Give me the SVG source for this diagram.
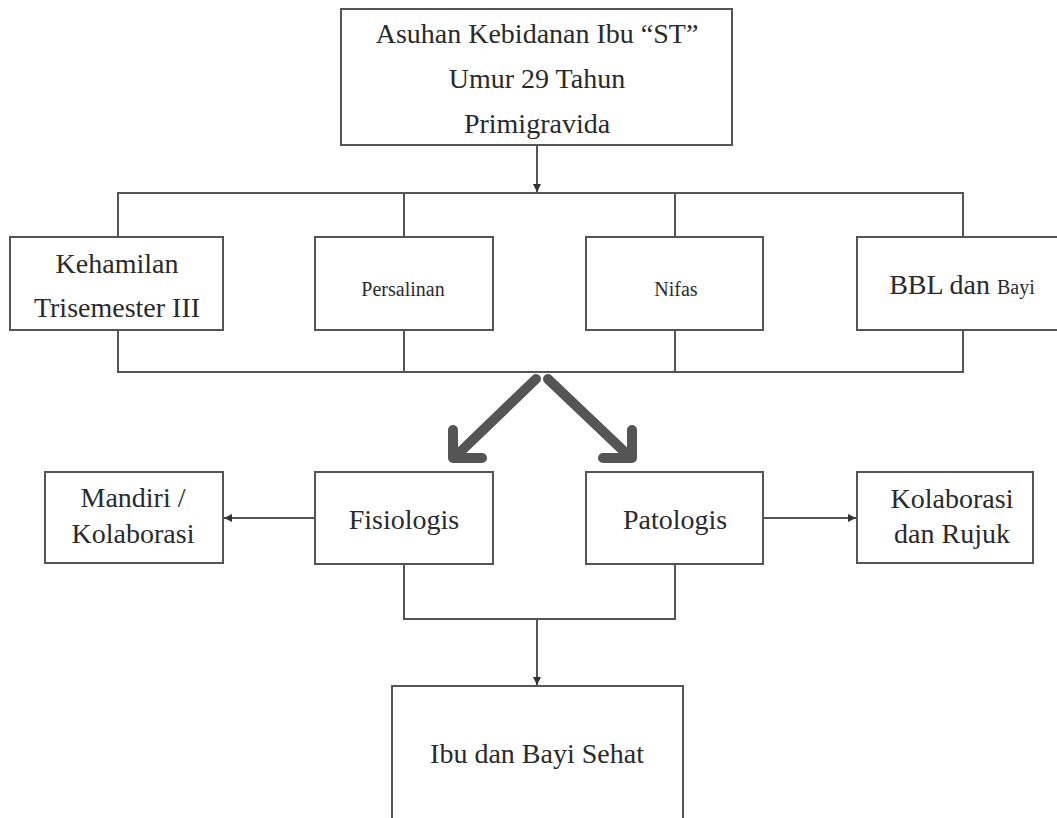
<svg xmlns="http://www.w3.org/2000/svg" width="1057" height="818" viewBox="0 0 1057 818" font-family="'Liberation Serif', 'Times New Roman', serif">
<defs>
<style>
.box{fill:#fff;stroke:#555;stroke-width:2}
.ln{fill:none;stroke:#555;stroke-width:2}
.big{fill:none;stroke:#555;stroke-width:10;stroke-linecap:round;stroke-linejoin:round}
text{font-family:'Liberation Serif','Times New Roman',serif;fill:#2a2a2a;text-anchor:middle}
.t{font-size:28px}
.s{font-size:20px}
</style>
<marker id="ah" markerWidth="10" markerHeight="10" refX="9" refY="5" orient="auto" markerUnits="userSpaceOnUse">
<path d="M1,1 L9,5 L1,9 Z" fill="#333"/>
</marker>
</defs>
<rect width="1057" height="818" fill="#fff"/>
<g id="connectors">
<line class="ln" x1="537" y1="145" x2="537" y2="192" marker-end="url(#ah)"/>
<polyline class="ln" points="118,237 118,193 963,193 963,237"/>
<line class="ln" x1="404" y1="193" x2="404" y2="237"/>
<line class="ln" x1="675" y1="193" x2="675" y2="237"/>
<polyline class="ln" points="118,330 118,372 963,372 963,330"/>
<line class="ln" x1="404" y1="330" x2="404" y2="372"/>
<line class="ln" x1="675" y1="330" x2="675" y2="372"/>
<line class="big" x1="536" y1="379" x2="457" y2="455"/>
<polyline class="big" points="453,430 453,458 482,458"/>
<line class="big" x1="548" y1="379" x2="628" y2="455"/>
<polyline class="big" points="632,430 632,458 603,458"/>
<line class="ln" x1="315" y1="518" x2="224" y2="518" marker-end="url(#ah)"/>
<line class="ln" x1="763" y1="518" x2="856" y2="518" marker-end="url(#ah)"/>
<polyline class="ln" points="404,564 404,619 675,619 675,564"/>
<line class="ln" x1="537" y1="619" x2="537" y2="685" marker-end="url(#ah)"/>
</g>
<g id="n-top"><rect class="box" x="341" y="9" width="391" height="136"/>
<text class="t" x="537" y="43">Asuhan Kebidanan Ibu “ST”</text>
<text class="t" x="537" y="88">Umur 29 Tahun</text>
<text class="t" x="537" y="133">Primigravida</text></g>
<g id="n-kehamilan"><rect class="box" x="10" y="237" width="213" height="93"/>
<text class="t" x="117" y="273">Kehamilan</text>
<text class="t" x="117" y="317">Trisemester III</text></g>
<g id="n-persalinan"><rect class="box" x="315" y="237" width="178" height="93"/>
<text class="s" x="403" y="296">Persalinan</text></g>
<g id="n-nifas"><rect class="box" x="586" y="237" width="177" height="93"/>
<text class="s" x="676" y="296">Nifas</text></g>
<g id="n-bbl"><rect class="box" x="857" y="237" width="215" height="93"/>
<text x="962" y="294"><tspan class="t">BBL dan </tspan><tspan class="s">Bayi</tspan></text></g>
<g id="n-mandiri"><rect class="box" x="45" y="472" width="178" height="91"/>
<text class="t" x="133" y="507">Mandiri /</text>
<text class="t" x="133" y="543">Kolaborasi</text></g>
<g id="n-fisiologis"><rect class="box" x="315" y="472" width="178" height="92"/>
<text class="t" x="404" y="529">Fisiologis</text></g>
<g id="n-patologis"><rect class="box" x="586" y="472" width="177" height="92"/>
<text class="t" x="675" y="529">Patologis</text></g>
<g id="n-kolaborasi"><rect class="box" x="857" y="472" width="176" height="91"/>
<text class="t" x="952" y="508">Kolaborasi</text>
<text class="t" x="952" y="543">dan Rujuk</text></g>
<g id="n-sehat"><rect class="box" x="392" y="686" width="291" height="140"/>
<text class="t" x="537" y="763">Ibu dan Bayi Sehat</text></g>
</svg>
